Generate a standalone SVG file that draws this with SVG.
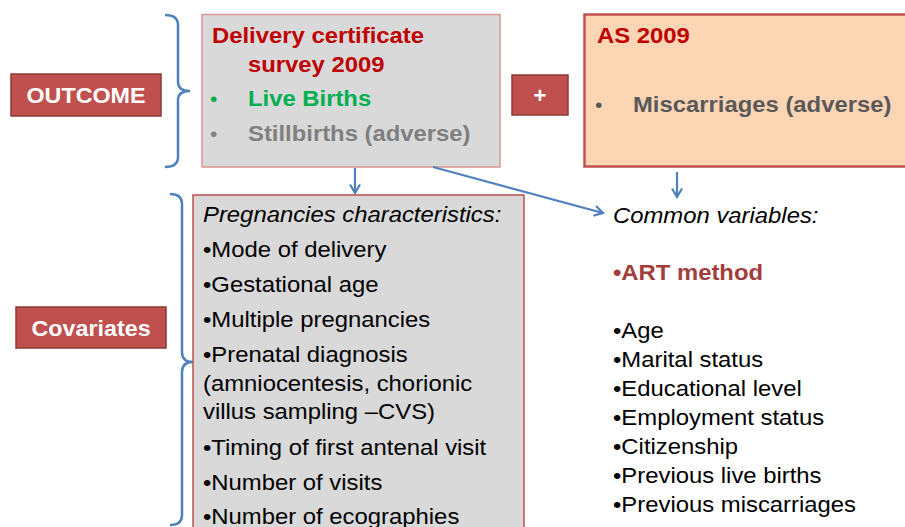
<svg xmlns="http://www.w3.org/2000/svg" width="905" height="527" viewBox="0 0 905 527">
  <style>
    text { font-family: "Liberation Sans", Arial, sans-serif; }
    .b { font-weight: bold; font-size: 22.5px; }
    .r { font-size: 21.5px; fill: #000; }
    .i { font-style: italic; }
    .dot { font-size: 21px; }
    .lbl { fill: #c0504d; stroke: #8c3836; stroke-width: 1.5; }
    .lbltxt { fill: #fff; font-weight: bold; font-size: 22px; text-anchor: middle; }
    .red { fill: #c00000; }
    .green { fill: #00b050; }
    .grey { fill: #7f7f7f; }
    .dark { fill: #595959; }
    .art { fill: #a33c3a; }
    .brace { fill: none; stroke: #4f81bd; stroke-width: 2.5; }
    .conn { fill: none; stroke: #4f81bd; stroke-width: 2.2; marker-end: url(#open); }
  </style>
  <defs>
    <marker id="open" viewBox="0 0 12 12" refX="10" refY="6" markerWidth="12" markerHeight="12" markerUnits="userSpaceOnUse" orient="auto">
      <path d="M1.5,1 L10,6 L1.5,11" fill="none" stroke="#4f81bd" stroke-width="2.2"/>
    </marker>
  </defs>

  <rect width="905" height="527" fill="#fff"/>

  <!-- side labels -->
  <g id="outcome">
    <rect class="lbl" x="11" y="74" width="150" height="42"/>
    <text class="lbltxt" transform="translate(86 103) scale(1.06 1)">OUTCOME</text>
  </g>
  <g id="covariates">
    <rect class="lbl" x="16" y="307" width="150" height="41"/>
    <text class="lbltxt" transform="translate(91 336) scale(1.06 1)">Covariates</text>
  </g>

  <!-- braces -->
  <g id="braces">
    <path class="brace" d="M165,15 Q178,15 178,25 L178,82 Q178,91 190,91 Q178,91 178,100 L178,157 Q178,167 165,167"/>
    <path class="brace" d="M170,194 Q182,194 182,204 L182,352 Q182,362 193,362 Q182,362 182,372 L182,515 Q182,525 170,525"/>
  </g>

  <!-- delivery certificate survey -->
  <g id="delivery">
    <rect x="202" y="14.5" width="298" height="152.5" fill="#d9d9d9" stroke="#d99694" stroke-width="1.5"/>
    <text class="b red" transform="translate(212 43) scale(1.06 1)">Delivery certificate</text>
    <text class="b red" transform="translate(248 72) scale(1.06 1)">survey 2009</text>
    <text class="dot green" x="210" y="106">•</text>
    <text class="b green" transform="translate(248 106) scale(1.06 1)">Live Births</text>
    <text class="dot grey" x="210" y="141">•</text>
    <text class="b grey" transform="translate(248 141) scale(1.06 1)">Stillbirths (adverse)</text>
  </g>

  <!-- plus sign -->
  <g id="plus">
    <rect class="lbl" x="512" y="75" width="56" height="40"/>
    <text class="lbltxt" x="540" y="103">+</text>
  </g>

  <!-- AS 2009 -->
  <g id="as2009">
    <rect x="584.5" y="14.5" width="340" height="152" fill="#fcd5b5" stroke="#c0504d" stroke-width="2.5"/>
    <text class="b red" transform="translate(597 43) scale(1.06 1)">AS 2009</text>
    <text class="dot dark" x="595" y="112">•</text>
    <text class="b dark" transform="translate(633 112) scale(1.06 1)">Miscarriages (adverse)</text>
  </g>

  <!-- pregnancy characteristics -->
  <g id="pregnancies">
    <rect x="193" y="195" width="331" height="350" fill="#d9d9d9" stroke="#c0504d" stroke-width="1.5"/>
    <text class="r i" transform="translate(203 222) scale(1.11 1)">Pregnancies characteristics:</text>
    <text class="r" transform="translate(203 257) scale(1.11 1)">•Mode of delivery</text>
    <text class="r" transform="translate(203 292) scale(1.11 1)">•Gestational age</text>
    <text class="r" transform="translate(203 327) scale(1.11 1)">•Multiple pregnancies</text>
    <text class="r" transform="translate(203 362) scale(1.11 1)">•Prenatal diagnosis</text>
    <text class="r" transform="translate(203 391) scale(1.11 1)">(amniocentesis, chorionic</text>
    <text class="r" transform="translate(203 419) scale(1.11 1)">villus sampling –CVS)</text>
    <text class="r" transform="translate(203 455) scale(1.11 1)">•Timing of first antenal visit</text>
    <text class="r" transform="translate(203 490) scale(1.11 1)">•Number of visits</text>
    <text class="r" transform="translate(203 524) scale(1.11 1)">•Number of ecographies</text>
  </g>

  <!-- common variables -->
  <g id="common">
    <text class="r i" transform="translate(613 223) scale(1.11 1)">Common variables:</text>
    <text class="b art" transform="translate(613 280) scale(1.06 1)">•ART method</text>
    <text class="r" transform="translate(613 338) scale(1.11 1)">•Age</text>
    <text class="r" transform="translate(613 367) scale(1.11 1)">•Marital status</text>
    <text class="r" transform="translate(613 396) scale(1.11 1)">•Educational level</text>
    <text class="r" transform="translate(613 425) scale(1.11 1)">•Employment status</text>
    <text class="r" transform="translate(613 454) scale(1.11 1)">•Citizenship</text>
    <text class="r" transform="translate(613 483) scale(1.11 1)">•Previous live births</text>
    <text class="r" transform="translate(613 512) scale(1.11 1)">•Previous miscarriages</text>
  </g>

  <!-- connectors -->
  <g id="connectors">
    <path class="conn" d="M355,168 L355,193"/>
    <path class="conn" d="M433,167 L603,213"/>
    <path class="conn" d="M677,172 L677,197"/>
  </g>
</svg>
